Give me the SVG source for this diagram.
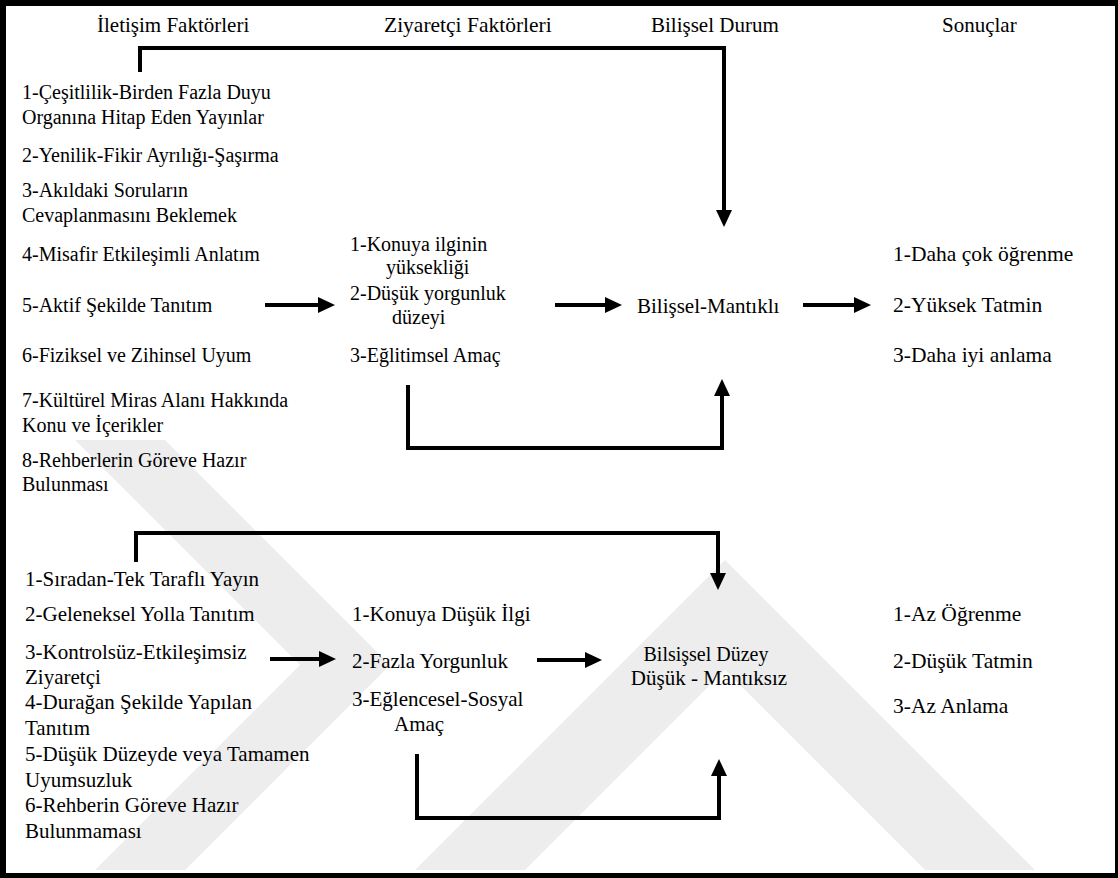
<svg xmlns="http://www.w3.org/2000/svg" width="1118" height="878" viewBox="0 0 1118 878">
<style>
text{font-family:'Liberation Serif','Times New Roman',Times,serif;font-size:21px;fill:#000}
.s20 text{font-size:20px}
.s21 text{font-size:21.5px}
.c{stroke:#000;stroke-width:4;fill:none}
.wm{fill:#ededed}
</style>
<defs>
<marker id="ah" markerUnits="userSpaceOnUse" markerWidth="18" markerHeight="16" refX="2" refY="8" orient="auto">
<path d="M0,0 L17,8 L0,16 z" fill="#000"/>
</marker>
</defs>
<rect width="1118" height="878" fill="#fff"/>
<g id="watermark">
<polygon class="wm" points="75,440 165,440 390,665 185,870 95,870 300,665"/>
<polygon class="wm" points="415,870 725,560 1035,870 925,870 725,670 525,870"/>
</g>
<path id="frame" d="M0,0 H1118 V878 H0 Z M6,6 V873 H1115 V6 Z" fill="#000" fill-rule="evenodd"/>
<g id="headers">
<text x="97" y="32">İletişim Faktörleri</text>
<text x="384" y="32" style="font-size:21.5px">Ziyaretçi Faktörleri</text>
<text x="651" y="32">Bilişsel Durum</text>
<text x="942" y="32">Sonuçlar</text>
</g>
<g id="connectors">
<path class="c" d="M140,72 V48 H724 V212" marker-end="url(#ah)"/>
<path class="c" d="M265,305 H320" marker-end="url(#ah)"/>
<path class="c" d="M555,305 H607" marker-end="url(#ah)"/>
<path class="c" d="M803,305 H856" marker-end="url(#ah)"/>
<path class="c" d="M408,385 V448 H722 V394" marker-end="url(#ah)"/>
<path class="c" d="M136,562 V533 H718 V575" marker-end="url(#ah)"/>
<path class="c" d="M270,659 H321" marker-end="url(#ah)"/>
<path class="c" d="M537,660 H587" marker-end="url(#ah)"/>
<path class="c" d="M417,754 V818 H719 V774" marker-end="url(#ah)"/>
</g>
<g id="iletisim-olumlu" class="s20">
<text x="22" y="99">1-Çeşitlilik-Birden Fazla Duyu</text>
<text x="22" y="124">Organına Hitap Eden Yayınlar</text>
<text x="22" y="162">2-Yenilik-Fikir Ayrılığı-Şaşırma</text>
<text x="22" y="197">3-Akıldaki Soruların</text>
<text x="22" y="222">Cevaplanmasını Beklemek</text>
<text x="22" y="261">4-Misafir Etkileşimli Anlatım</text>
<text x="22" y="312">5-Aktif Şekilde Tanıtım</text>
<text x="22" y="362">6-Fiziksel ve Zihinsel Uyum</text>
<text x="22" y="407">7-Kültürel Miras Alanı Hakkında</text>
<text x="22" y="432">Konu ve İçerikler</text>
<text x="22" y="467">8-Rehberlerin Göreve Hazır</text>
<text x="22" y="491">Bulunması</text>
</g>
<g id="ziyaretci-olumlu" class="s20">
<text x="350" y="251">1-Konuya ilginin</text>
<text x="386" y="274">yüksekliği</text>
<text x="350" y="300">2-Düşük yorgunluk</text>
<text x="392" y="324">düzeyi</text>
<text x="350" y="362">3-Eğlitimsel Amaç</text>
</g>
<g id="bilissel-olumlu">
<text x="637" y="313">Bilişsel-Mantıklı</text>
</g>
<g id="sonuc-olumlu" class="s21">
<text x="893" y="261">1-Daha çok öğrenme</text>
<text x="893" y="312">2-Yüksek Tatmin</text>
<text x="893" y="362">3-Daha iyi anlama</text>
</g>
<g id="iletisim-olumsuz">
<text x="25" y="586">1-Sıradan-Tek Taraflı Yayın</text>
<text x="25" y="621">2-Geleneksel Yolla Tanıtım</text>
<text x="25" y="659">3-Kontrolsüz-Etkileşimsiz</text>
<text x="25" y="684">Ziyaretçi</text>
<text x="25" y="709">4-Durağan Şekilde Yapılan</text>
<text x="25" y="735">Tanıtım</text>
<text x="25" y="761">5-Düşük Düzeyde veya Tamamen</text>
<text x="25" y="787">Uyumsuzluk</text>
<text x="25" y="812">6-Rehberin Göreve Hazır</text>
<text x="25" y="838">Bulunmaması</text>
</g>
<g id="ziyaretci-olumsuz">
<text x="352" y="621">1-Konuya Düşük İlgi</text>
<text x="352" y="668">2-Fazla Yorgunluk</text>
<text x="352" y="706">3-Eğlencesel-Sosyal</text>
<text x="394" y="731">Amaç</text>
</g>
<g id="bilissel-olumsuz">
<text x="706" y="661" text-anchor="middle" style="font-size:20px">Bilsişsel Düzey</text>
<text x="709" y="685" text-anchor="middle">Düşük - Mantıksız</text>
</g>
<g id="sonuc-olumsuz" class="s21">
<text x="893" y="621">1-Az Öğrenme</text>
<text x="893" y="668">2-Düşük Tatmin</text>
<text x="893" y="713">3-Az Anlama</text>
</g>
</svg>
